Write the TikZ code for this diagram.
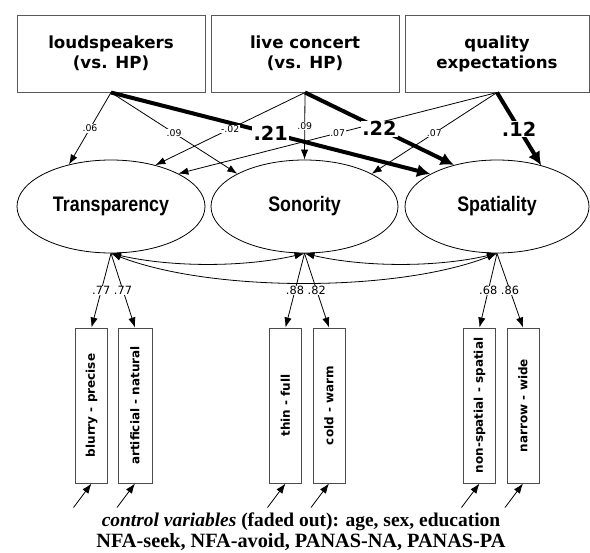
\documentclass[tikz,border=0pt]{standalone}
\usepackage{fontspec}
\setmainfont{Liberation Serif}
\newfontfamily\vfont{DejaVu Sans}
\newfontfamily\nfont[FakeStretch=0.85]{Liberation Sans}
\usetikzlibrary{arrows.meta,shapes.geometric,calc}
\begin{document}
\begin{tikzpicture}[x=0.75pt,y=-0.75pt,
  topbox/.style={draw=black!65, line width=0.75pt, minimum height=57.75pt, inner sep=0pt, align=center,
     font=\vfont\bfseries\fontsize{12.5}{15}\selectfont},
  latent/.style={ellipse, draw=black, line width=0.6pt, minimum height=69.75pt, inner sep=0pt,
     font=\nfont\bfseries\fontsize{15.75}{18}\selectfont},
  indbox/.style={draw=black!70, line width=0.75pt, minimum width=24pt, minimum height=116.25pt, inner sep=0pt,
     font=\vfont\bfseries\fontsize{9}{11}\selectfont},
  arr/.style={line width=0.6pt, -{Latex[length=7.5pt,width=5.5pt]}},
  thick arr/.style={line width=3pt, -{Latex[length=10pt,width=10pt]}},
  cov/.style={line width=0.6pt, {Latex[length=7.5pt,width=5.5pt]}-{Latex[length=7.5pt,width=5.5pt]}},
  lab/.style={fill=white, inner sep=0.4pt, font=\vfont\fontsize{7}{8}\selectfont},
  loadlab/.style={fill=white, inner sep=0.4pt, font=\vfont\fontsize{8.5}{9}\selectfont},
  biglab/.style={fill=white, inner sep=0.8pt, font=\vfont\bfseries\fontsize{14.5}{16}\selectfont}]
\useasboundingbox (0,0) rectangle (590,553);
\fill[white] (0,0) rectangle (590,553);

% top boxes
\node[topbox, minimum width=141pt] (A) at (111,53.5) {loudspeakers\\(vs. HP)};
\node[topbox, minimum width=141pt] (B) at (305,53.5) {live concert\\(vs. HP)};
\node[topbox, minimum width=138pt] (C) at (497,53.5) {quality\\expectations};

% latent variables
\node[latent, minimum width=141pt] (T) at (111,206.5) {Transparency};
\node[latent, minimum width=140.25pt] (S) at (304.5,206.5) {Sonority};
\node[latent, minimum width=138pt] (P) at (497,206.5) {Spatiality};

% indicator boxes
\node[indbox] (b1) at (91.5,405.5) {\rotatebox{90}{blurry - precise}};
\node[indbox, minimum width=25.5pt] (b2) at (135,405.5) {\rotatebox{90}{artificial - natural}};
\node[indbox] (b3) at (285.5,405.5) {\rotatebox{90}{thin - full}};
\node[indbox] (b4) at (329,405.5) {\rotatebox{90}{cold - warm}};
\node[indbox] (b5) at (479.5,405.5) {\rotatebox{90}{non-spatial - spatial}};
\node[indbox] (b6) at (523,405.5) {\rotatebox{90}{narrow - wide}};

% thin paths
\draw[arr] (A.south) -- coordinate (pa1) (T.135);
\draw[arr] (A.south) -- coordinate (pa2) (S.154);
\draw[arr] (B.south) -- coordinate (pb1) (T.43);
\draw[arr] (B.south) -- coordinate (pb2) (S.90);
\draw[arr] (C.south) -- coordinate (pc1) (T.26);
\draw[arr] (C.south) -- coordinate (pc2) (S.26);
% thick paths
\draw[thick arr] (A.south) -- coordinate (pa3) (P.154);
\draw[thick arr] (B.south) -- coordinate (pb3) (P.136);
\draw[thick arr] (C.south) -- coordinate (pc3) (P.43);

% labels of paths
\node[lab] at (pa1) {.06};
\node[lab] at (pa2) {.09};
\node[lab] at (pb1) {-.02};
\node[lab] at (pb2) {.09};
\node[lab] at (pc1) {.07};
\node[lab] at (pc2) {.07};
\node[biglab] at (pa3) {.21};
\node[biglab] at (pb3) {.22};
\node[biglab] at (pc3) {.12};

% covariances
\draw[cov] (T.south) .. controls +(60,14) and +(-60,14) .. (S.south);
\draw[cov] (S.south) .. controls +(60,14) and +(-60,14) .. (P.south);
\draw[cov] (T.south) .. controls +(100,39) and +(-100,39) .. (P.south);

% loadings
\draw[arr] (T.south) -- coordinate (m1) (b1.north);
\draw[arr] (T.south) -- coordinate (m2) (b2.north);
\draw[arr] (S.south) -- coordinate (m3) (b3.north);
\draw[arr] (S.south) -- coordinate (m4) (b4.north);
\draw[arr] (P.south) -- coordinate (m5) (b5.north);
\draw[arr] (P.south) -- coordinate (m6) (b6.north);
\node[loadlab] at (m1) {.77};
\node[loadlab] at (m2) {.77};
\node[loadlab] at (m3) {.88};
\node[loadlab] at (m4) {.82};
\node[loadlab] at (m5) {.68};
\node[loadlab] at (m6) {.86};

% error terms
\foreach \b in {b1,b2,b3,b4,b5,b6} {
  \coordinate (e\b) at ($(\b.south)+(-18,24)$);
  \draw[arr] (e\b) -- (\b.south);
}

% control variables text
\node[font=\bfseries\fontsize{15.2}{15.75}\selectfont, align=center, inner sep=0pt] (ctrl) at (301,532)
  {{\fontsize{14.6}{15.75}\selectfont\textit{control variables} (faded out): age, sex, education}\\NFA-seek, NFA-avoid, PANAS-NA, PANAS-PA};
\end{tikzpicture}
\end{document}
